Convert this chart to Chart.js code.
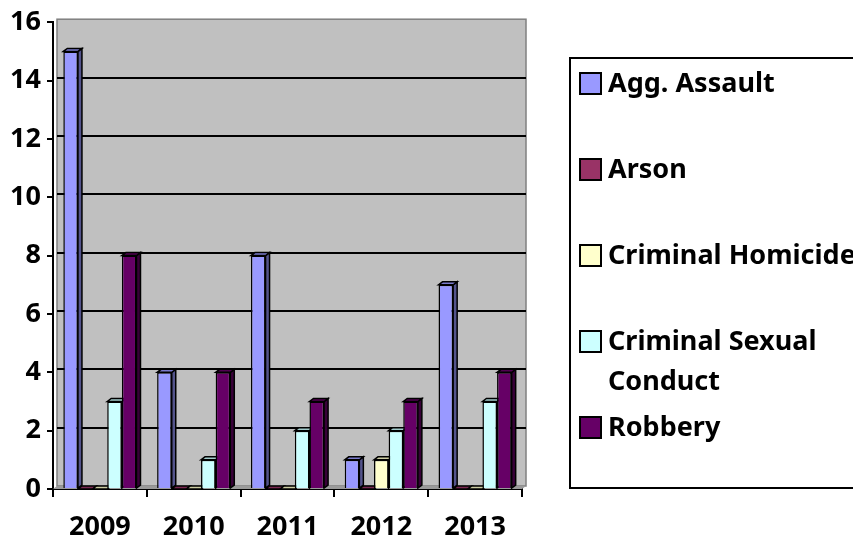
<!DOCTYPE html>
<html>
<head>
<meta charset="utf-8">
<script src="https://cdn.jsdelivr.net/npm/chart.js@4/dist/chart.umd.min.js"></script>
<style>
  html, body { margin: 0; padding: 0; background: #fff; }
  #wrap { width: 853px; height: 539px; }
</style>
</head>
<body>
<div id="wrap"><canvas id="crimeChart" width="853" height="539"></canvas></div>
<script>
// values
var years = ['2009', '2010', '2011', '2012', '2013'];
var seriesNames = ['Agg. Assault', 'Arson', 'Criminal Homicide', 'Criminal Sexual Conduct', 'Robbery'];
var aggAssault = [15, 4, 8, 1, 7];
var arson = [0, 0, 0, 0, 0];
var homicide = [0, 0, 0, 1, 0];
var sexualConduct = [3, 1, 2, 2, 3];
var robbery = [8, 4, 3, 3, 4];
var yMax = 16;
var yStep = 2;

var seriesColors = ['#9999FF', '#993366', '#FFFFCC', '#CCFFFF', '#660066'];
var FONT = '"Noto Sans", sans-serif';
var DX = 4, DY = 3; // fake 3d depth

function shade(hex, f) {
    var r = parseInt(hex.substr(1, 2), 16), g = parseInt(hex.substr(3, 2), 16), b = parseInt(hex.substr(5, 2), 16);
    return 'rgb(' + Math.round(r * f) + ',' + Math.round(g * f) + ',' + Math.round(b * f) + ')';
}

// gray back wall, floor and gridlines
var wallPlugin = {
    id: 'wall',
    beforeDatasetsDraw: function (chart) {
        var ctx = chart.ctx, a = chart.chartArea, y = chart.scales.y;
        ctx.save();
        ctx.fillStyle = '#C0C0C0';
        ctx.fillRect(a.left + DX, a.top - DY, a.right - a.left, a.bottom - a.top);
        ctx.strokeStyle = '#808080';
        ctx.lineWidth = 1.5;
        ctx.strokeRect(a.left + DX, a.top - DY, a.right - a.left, a.bottom - a.top);
        // floor
        ctx.fillStyle = '#9A9A9A';
        ctx.beginPath();
        ctx.moveTo(a.left, a.bottom);
        ctx.lineTo(a.left + DX, a.bottom - DY);
        ctx.lineTo(a.right + DX, a.bottom - DY);
        ctx.lineTo(a.right, a.bottom);
        ctx.closePath();
        ctx.fill();
        // gridlines on the wall
        ctx.strokeStyle = '#000';
        ctx.lineWidth = 2;
        for (var v = yStep; v < yMax; v += yStep) {
            var py = Math.round(y.getPixelForValue(v) - DY);
            ctx.beginPath();
            ctx.moveTo(a.left + DX, py);
            ctx.lineTo(a.right + DX, py);
            ctx.stroke();
        }
        // side and top faces, fronts are drawn by chart.js afterwards
        ctx.lineWidth = 1.5;
        chart.data.datasets.forEach(function (ds, i) {
            var meta = chart.getDatasetMeta(i);
            meta.data.forEach(function (bar) {
                var l = bar.x - bar.width / 2, r = bar.x + bar.width / 2;
                ctx.strokeStyle = '#000';
                ctx.fillStyle = shade(ds.backgroundColor, 0.55);
                ctx.beginPath();
                ctx.moveTo(r, bar.y);
                ctx.lineTo(r + DX, bar.y - DY);
                ctx.lineTo(r + DX, bar.base - DY);
                ctx.lineTo(r, bar.base);
                ctx.closePath();
                ctx.fill();
                ctx.stroke();
                ctx.fillStyle = shade(ds.backgroundColor, 0.8);
                ctx.beginPath();
                ctx.moveTo(l, bar.y);
                ctx.lineTo(l + DX, bar.y - DY);
                ctx.lineTo(r + DX, bar.y - DY);
                ctx.lineTo(r, bar.y);
                ctx.closePath();
                ctx.fill();
                ctx.stroke();
            });
        });
        ctx.restore();
    }
};

// boxed legend on the right, like the original
var legendPlugin = {
    id: 'boxLegend',
    afterDraw: function (chart) {
        var ctx = chart.ctx;
        ctx.save();
        ctx.strokeStyle = '#000';
        ctx.lineWidth = 2;
        ctx.strokeRect(570, 58, 320, 430);
        ctx.font = 'bold 27px ' + FONT;
        ctx.textBaseline = 'middle';
        var rowY = 84;
        chart.data.datasets.forEach(function (ds) {
            ctx.fillStyle = ds.backgroundColor;
            ctx.fillRect(580, rowY - 11, 21, 21);
            ctx.strokeRect(580, rowY - 11, 21, 21);
            // simple word wrap
            var words = ds.label.split(' '), lines = [], cur = '';
            words.forEach(function (w) {
                var t = cur ? cur + ' ' + w : w;
                if (ctx.measureText(t).width > 250 && cur) { lines.push(cur); cur = w; }
                else cur = t;
            });
            lines.push(cur);
            ctx.fillStyle = '#000';
            lines.forEach(function (ln, k) {
                ctx.fillText(ln, 608, rowY + k * 40);
            });
            rowY += 86;
        });
        ctx.restore();
    }
};

var series = [aggAssault, arson, homicide, sexualConduct, robbery];
var datasets = series.map(function (vals, i) {
    return {
        label: seriesNames[i],
        data: vals,
        backgroundColor: seriesColors[i],
        borderColor: '#000',
        borderWidth: 1.5,
        barPercentage: 1.0,
        categoryPercentage: 0.78
    };
});

var ctx = document.getElementById('crimeChart').getContext('2d');
var myChart = new Chart(ctx, {
    type: 'bar',
    data: { labels: years, datasets: datasets },
    plugins: [wallPlugin, legendPlugin],
    options: {
        responsive: false,
        animation: false,
        devicePixelRatio: 1,
        layout: { padding: { top: 20, right: 331, left: 0, bottom: 0 } },
        plugins: { legend: { display: false }, tooltip: { enabled: false } },
        scales: {
            x: {
                afterFit: function (s) { s.height = 50; },
                grid: { drawOnChartArea: false, color: '#000', lineWidth: 2, tickLength: 8 },
                border: { color: '#000', width: 2 },
                ticks: { color: '#000', font: { family: FONT, size: 27, weight: 'bold' }, padding: 14 }
            },
            y: {
                min: 0,
                max: yMax,
                afterFit: function (s) { s.width = 53; },
                grid: { drawOnChartArea: false, color: '#000', lineWidth: 2, tickLength: 6 },
                border: { color: '#000', width: 2 },
                ticks: { stepSize: yStep, color: '#000', font: { family: FONT, size: 27, weight: 'bold' }, padding: 6 }
            }
        }
    }
});
</script>
</body>
</html>
